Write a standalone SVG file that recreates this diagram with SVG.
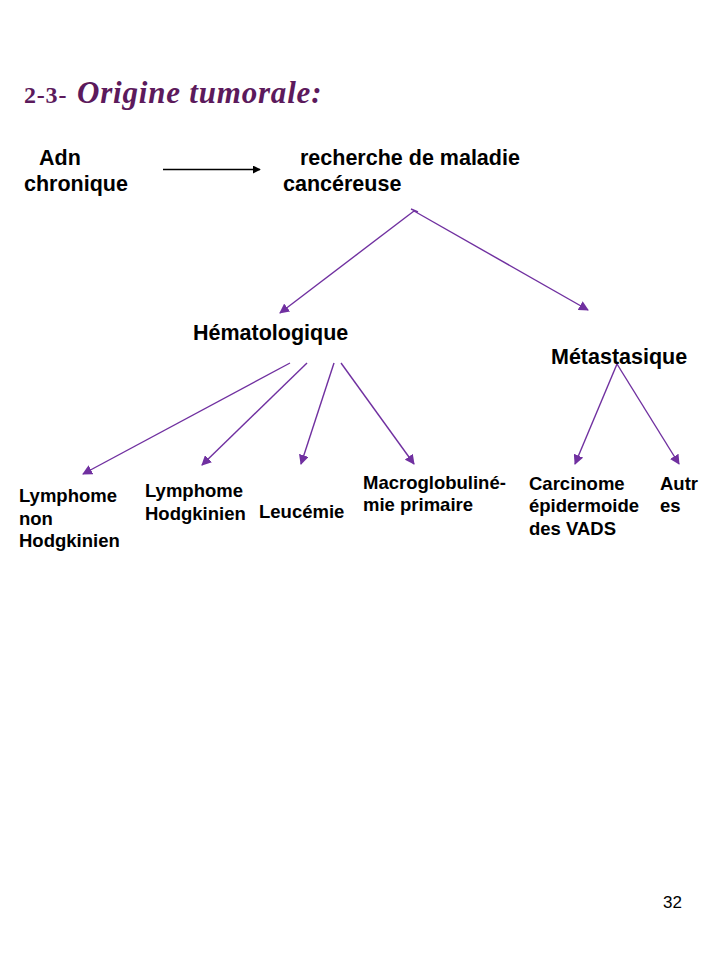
<svg xmlns="http://www.w3.org/2000/svg" width="728" height="971" viewBox="0 0 728 971">
<defs>
<style>
.big{font-family:"Liberation Sans",Arial,sans-serif;font-weight:bold;font-size:21.5px;fill:#000}
.sm{font-family:"Liberation Sans",Arial,sans-serif;font-weight:bold;font-size:18.5px;fill:#000}
.ti{font-family:"Liberation Serif","Times New Roman",serif;font-weight:bold;fill:#5c1a5c}
.c{stroke:#7030A0;stroke-width:1.4;fill:none}
.k{stroke:#000;stroke-width:1.3;fill:none}
</style>
<marker id="ap" viewBox="0 0 10 10" refX="9" refY="5" markerWidth="10" markerHeight="10" markerUnits="userSpaceOnUse" orient="auto"><path d="M0,0 L10,5 L0,10 Z" fill="#7030A0"/></marker>
<marker id="ak" viewBox="0 0 10 10" refX="9" refY="5" markerWidth="8" markerHeight="8" markerUnits="userSpaceOnUse" orient="auto"><path d="M0,0 L10,5 L0,10 Z" fill="#000"/></marker>
</defs>
<rect width="728" height="971" fill="#fff"/>
<g id="title">
<text class="ti" x="24" y="103" font-size="24" letter-spacing="0.8">2-3-</text>
<text class="ti" x="77" y="103" font-size="31" font-style="italic" letter-spacing="0.8">Origine tumorale:</text>
</g>
<g id="adn"><text class="big" x="39" y="165">Adn</text><text class="big" x="24" y="191">chronique</text></g>
<g id="recherche"><text class="big" x="300" y="165">recherche de maladie</text><text class="big" x="283" y="191">cancéreuse</text></g>
<g id="hemato"><text class="big" x="193" y="340">Hématologique</text></g>
<g id="meta"><text class="big" x="551" y="364">Métastasique</text></g>
<g id="lnh"><text class="sm" x="19" y="502">Lymphome</text><text class="sm" x="19" y="524.5">non</text><text class="sm" x="19" y="547">Hodgkinien</text></g>
<g id="lh"><text class="sm" x="145" y="497">Lymphome</text><text class="sm" x="145" y="520">Hodgkinien</text></g>
<g id="leuc"><text class="sm" x="259" y="518">Leucémie</text></g>
<g id="macro"><text class="sm" x="363" y="489">Macroglobuliné-</text><text class="sm" x="363" y="511">mie primaire</text></g>
<g id="carci"><text class="sm" x="529" y="490">Carcinome</text><text class="sm" x="529" y="512">épidermoide</text><text class="sm" x="529" y="535">des VADS</text></g>
<g id="autres"><text class="sm" x="660" y="490">Autr</text><text class="sm" x="660" y="512">es</text></g>
<g id="page"><text x="663" y="908" font-family="Liberation Sans,Arial,sans-serif" font-size="17" fill="#000">32</text></g>
<g id="connectors">
<line class="k" x1="163" y1="169.5" x2="260" y2="169.5" marker-end="url(#ak)"/>
<line class="c" x1="411" y1="209" x2="418" y2="212"/>
<line class="c" x1="414" y1="211" x2="280" y2="313" marker-end="url(#ap)"/>
<line class="c" x1="414" y1="211" x2="588" y2="310" marker-end="url(#ap)"/>
<line class="c" x1="290" y1="363" x2="83" y2="474" marker-end="url(#ap)"/>
<line class="c" x1="307" y1="363" x2="202" y2="465" marker-end="url(#ap)"/>
<line class="c" x1="334" y1="363" x2="301" y2="464" marker-end="url(#ap)"/>
<line class="c" x1="341" y1="363" x2="414" y2="464" marker-end="url(#ap)"/>
<line class="c" x1="617" y1="364" x2="575" y2="464" marker-end="url(#ap)"/>
<line class="c" x1="617" y1="364" x2="679" y2="464" marker-end="url(#ap)"/>
</g>
</svg>
